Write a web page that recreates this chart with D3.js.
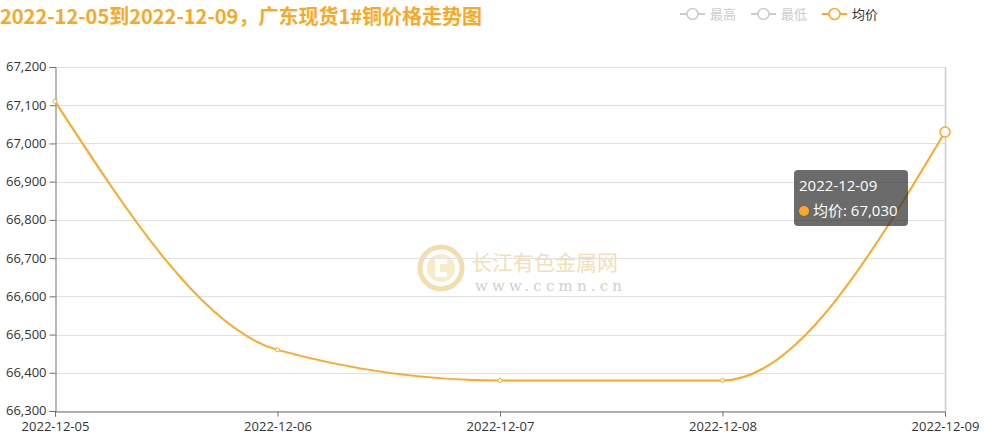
<!DOCTYPE html>
<html><head><meta charset="utf-8">
<script src="https://cdn.jsdelivr.net/npm/d3@7"></script>
<style>
html,body{margin:0;padding:0;background:#fff;}
svg{display:block;font-family:"Microsoft YaHei","Noto Sans CJK SC",sans-serif;}
</style></head>
<body>
<svg id="c" width="985" height="437"></svg>
<script>
const title = "2022-12-05到2022-12-09，广东现货1#铜价格走势图";
const categories = ["2022-12-05","2022-12-06","2022-12-07","2022-12-08","2022-12-09"];
const avgPrice = [67110, 66460, 66380, 66380, 67030];
const yTicks = [66300,66400,66500,66600,66700,66800,66900,67000,67100,67200];
const legendNames = ["最高","最低","均价"];
const seriesName = "均价";
const hoverIndex = 4;

const orange = "#ffa726";
const svg = d3.select("#c");
const L = 55, R = 945, T = 67, B = 411;
const numFont = "'Open Sans','Noto Sans CJK SC',sans-serif";

const x = d3.scalePoint().domain(categories).range([L, R]);
const y = d3.scaleLinear().domain([66300, 67200]).range([B, T]);

// watermark
const wm = svg.append("g").attr("opacity", 0.55);
wm.append("circle").attr("cx", 441).attr("cy", 268).attr("r", 21).attr("fill","none").attr("stroke","#e6c46a").attr("stroke-width",5);
wm.append("circle").attr("cx", 441).attr("cy", 268).attr("r", 14).attr("fill","#f2dc9c");
wm.append("path").attr("d","M447,259 L435,259 L435,277 L447,277 L447,272 L440,272 L440,264 L447,264 Z").attr("fill","#fff");
wm.append("text").attr("x", 471).attr("y", 270).attr("font-size", 21).attr("fill","#e9c777").text("长江有色金属网");
wm.append("text").attr("x", 475).attr("y", 291).attr("font-size", 15).attr("font-family","'DejaVu Serif',serif").attr("letter-spacing", 4.2).attr("fill","#aaa").text("www.ccmn.cn");

// grid
svg.append("g").selectAll("line").data(yTicks).join("line")
  .attr("x1", L).attr("x2", R).attr("y1", d => Math.round(y(d))+0.5).attr("y2", d => Math.round(y(d))+0.5)
  .attr("stroke", "#e0e0e0").attr("stroke-width", 1);

// axis pointer
svg.append("line").attr("x1", x(categories[hoverIndex])+0.5).attr("x2", x(categories[hoverIndex])+0.5)
  .attr("y1", T).attr("y2", B).attr("stroke", "#cccccc").attr("stroke-width", 1.5);

// y axis
const yAxis = svg.append("g").attr("transform", `translate(${L+0.5},0)`)
  .call(d3.axisLeft(y).tickValues(yTicks).tickSize(6).tickPadding(3).tickFormat(d3.format(",")));
yAxis.select(".domain").attr("stroke", "#6e7079");
yAxis.selectAll(".tick line").attr("stroke", "#6e7079");
yAxis.selectAll("text").attr("font-size", 13).attr("fill", "#333").attr("font-family", numFont).attr("dy","0.3em");

// x axis
const xAxis = svg.append("g").attr("transform", `translate(0,${B+0.5})`)
  .call(d3.axisBottom(x).tickSize(5).tickPadding(5));
xAxis.select(".domain").attr("stroke", "#6e7079");
xAxis.selectAll(".tick line").attr("stroke", "#6e7079");
xAxis.selectAll("text").attr("font-size", 13).attr("fill", "#333").attr("font-family", numFont).attr("dy","0.72em");

// line
const pts = categories.map((c,i) => [x(c), y(avgPrice[i])]);
svg.append("path").attr("d", d3.line().curve(d3.curveMonotoneX)(pts))
  .attr("fill","none").attr("stroke", orange).attr("stroke-width", 2);
svg.append("g").selectAll("circle").data(pts).join("circle")
  .attr("cx", d => d[0]).attr("cy", d => d[1]).attr("r", (d,i) => i === hoverIndex ? 5 : 2)
  .attr("fill","#fff").attr("stroke", orange).attr("stroke-width", (d,i)=> i===hoverIndex?1.5:1);

// title
svg.append("text").attr("x", 0).attr("y", 24).attr("font-size", 20).attr("font-weight","bold")
  .attr("fill", "#f9a825").text(title);

// legend
const legX = [680, 751, 822];
const lg = svg.append("g");
legendNames.forEach((n,i) => {
  const col = i === 2 ? orange : "#cccccc";
  const g = lg.append("g").attr("transform", `translate(${legX[i]},14)`);
  g.append("line").attr("x1",0).attr("x2",25).attr("y1",0).attr("y2",0).attr("stroke",col).attr("stroke-width",2);
  g.append("circle").attr("cx",12.5).attr("cy",0).attr("r",5.5).attr("fill","#fff").attr("stroke",col).attr("stroke-width",1.5);
  g.append("text").attr("x",30).attr("y",4.5).attr("font-size",13).attr("fill", i===2?"#333":"#cccccc").text(n);
});

// tooltip
const tt = svg.append("g").attr("transform","translate(794,170)");
tt.append("rect").attr("width",114).attr("height",56).attr("rx",4).attr("fill","rgba(50,50,50,0.72)");
tt.append("text").attr("x",5).attr("y",21).attr("font-size",15).attr("fill","#fff").attr("font-family",numFont).text(categories[hoverIndex]);
tt.append("circle").attr("cx",10).attr("cy",41).attr("r",5).attr("fill",orange);
tt.append("text").attr("x",19).attr("y",46).attr("font-size",15).attr("fill","#fff").attr("font-family",numFont)
  .text(seriesName + ": " + d3.format(",")(avgPrice[hoverIndex]));
</script>
</body></html>
